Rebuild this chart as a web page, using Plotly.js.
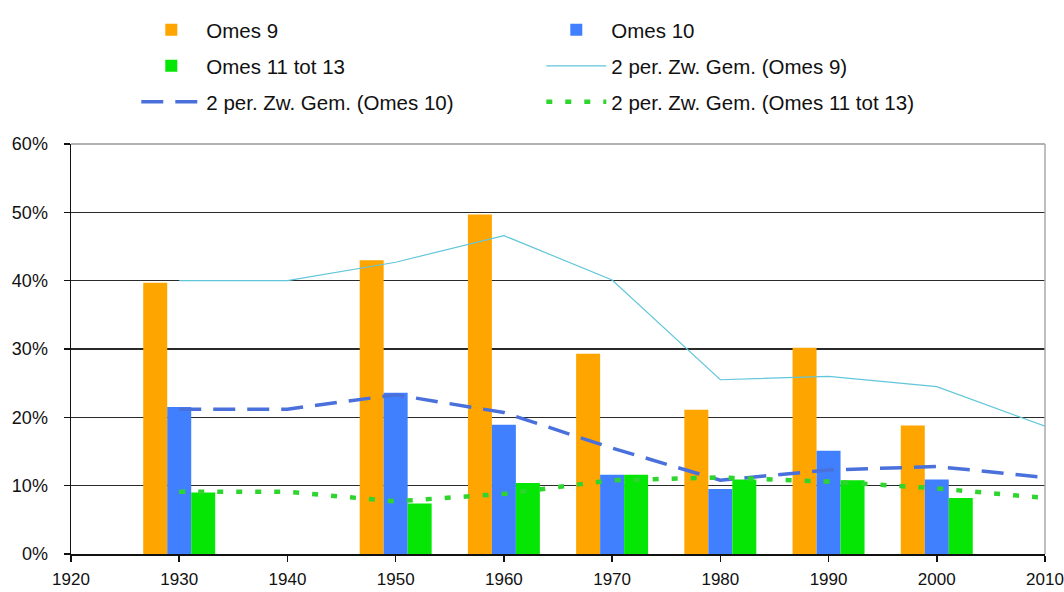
<!DOCTYPE html>
<html>
<head>
<meta charset="utf-8">
<script src="https://cdn.plot.ly/plotly-3.0.1.min.js"></script>
<style>html,body{margin:0;padding:0;background:#fff;}#chart{width:1064px;height:592px;}</style>
</head>
<body>
<div id="chart"></div>
<script>
// ---- data (percentages) ----
const barYears = [1930, 1950, 1960, 1970, 1980, 1990, 2000];
const omes9 = [39.7, 43.0, 49.7, 29.3, 21.1, 30.2, 18.8];
const omes10 = [21.5, 23.6, 18.9, 11.6, 9.5, 15.1, 10.9];
const omes11to13 = [9.0, 7.4, 10.4, 11.6, 10.9, 10.8, 8.2];

const avgYears = [1930, 1940, 1950, 1960, 1970, 1980, 1990, 2000, 2010];
const avgOmes9 = [40.0, 40.0, 42.7, 46.6, 40.1, 25.5, 26.0, 24.5, 18.7];
const avgOmes10 = [21.2, 21.2, 23.3, 20.7, 15.5, 10.8, 12.3, 12.8, 11.2];
const avgOmes11to13 = [9.1, 9.1, 7.7, 8.8, 10.8, 11.2, 10.6, 9.6, 8.2];

const names = ["Omes 9", "Omes 10", "Omes 11 tot 13",
  "2 per. Zw. Gem. (Omes 9)", "2 per. Zw. Gem. (Omes 10)", "2 per. Zw. Gem. (Omes 11 tot 13)"];
const yTicks = [0, 10, 20, 30, 40, 50, 60];
const xTicks = [1920, 1930, 1940, 1950, 1960, 1970, 1980, 1990, 2000, 2010];

const FONT = "'Liberation Sans', Arial, sans-serif";

const traces = [
  {type: 'bar', x: barYears, y: omes9, name: names[0], marker: {color: '#FFA500'}, legend: 'legend'},
  {type: 'bar', x: barYears, y: omes10, name: names[1], marker: {color: '#4080FF'}, legend: 'legend'},
  {type: 'bar', x: barYears, y: omes11to13, name: names[2], marker: {color: '#05E605'}, legend: 'legend2'},
  {type: 'scatter', mode: 'lines', x: avgYears, y: avgOmes9, name: names[3],
   line: {color: '#62C6DA', width: 1.2}, legend: 'legend2'},
  {type: 'scatter', mode: 'lines', x: avgYears, y: avgOmes10, name: names[4],
   line: {color: '#4A70DC', width: 3.5, dash: '22px,12px'}, legend: 'legend3'},
  {type: 'scatter', mode: 'lines', x: avgYears, y: avgOmes11to13, name: names[5],
   line: {color: '#2ED52E', width: 4.5, dash: '6px,13px'}, legend: 'legend3'}
];

const H = 592, W = 1064;
function leg(yPx) {
  return {
    orientation: 'h', xref: 'container', yref: 'container',
    x: 136.3 / W, xanchor: 'left', y: 1 - yPx / H, yanchor: 'middle',
    entrywidth: 330, entrywidthmode: 'pixels', itemwidth: 60,
    font: {family: FONT, size: 20.5, color: '#111'}, bgcolor: 'rgba(0,0,0,0)',
    traceorder: 'normal', itemclick: false, itemdoubleclick: false
  };
}
const layout = {
  width: W, height: H,
  margin: {l: 71, r: 19, t: 144, b: 38},
  paper_bgcolor: '#fff', plot_bgcolor: '#fff',
  barmode: 'group', bargap: 0.335, bargroupgap: 0,
  showlegend: true,
  legend: leg(30),
  legend2: leg(66),
  legend3: leg(102),
  font: {family: FONT, size: 17, color: '#111'},
  xaxis: {
    range: [1920, 2010], tickmode: 'array', tickvals: xTicks, ticktext: xTicks.map(String),
    showgrid: false, zeroline: false, showline: true, linecolor: '#111', linewidth: 1.5,
    ticks: 'outside', ticklen: 6, tickcolor: '#111', tickwidth: 1.5,
    ticklabeloverflow: 'allow', ticklabelstandoff: 3, automargin: false,
    tickfont: {family: FONT, size: 17, color: '#111'}, fixedrange: true
  },
  yaxis: {
    range: [0, 60], tickmode: 'array', tickvals: yTicks, ticktext: yTicks.map(v => v + '%'),
    showgrid: true, gridcolor: '#2a2a2a', gridwidth: 1.6, zeroline: false,
    showline: true, linecolor: '#111', linewidth: 1.5,
    ticks: 'outside', ticklen: 6, tickcolor: '#111', tickwidth: 1.5,
    ticklabelstandoff: 12, automargin: false,
    tickfont: {family: FONT, size: 18, color: '#111'}, fixedrange: true
  },
  shapes: [
    {type: 'line', xref: 'paper', yref: 'paper', x0: 0, x1: 1, y0: 1, y1: 1, line: {color: '#999', width: 1.5}},
    {type: 'line', xref: 'paper', yref: 'paper', x0: 1, x1: 1, y0: 0, y1: 1, line: {color: '#aaa', width: 1.5}}
  ]
};
Plotly.newPlot('chart', traces, layout, {displayModeBar: false, staticPlot: true});
</script>
</body>
</html>
